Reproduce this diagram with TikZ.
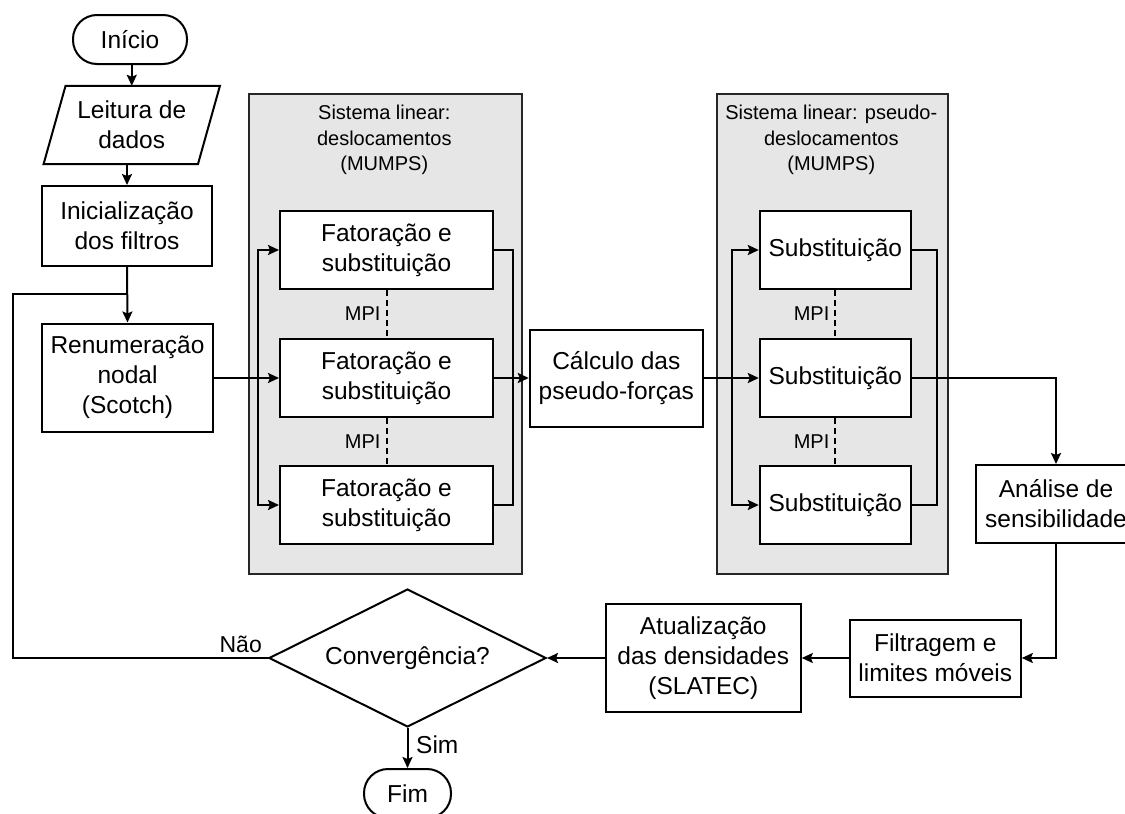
\documentclass[tikz,border=0pt]{standalone}
\usepackage{fontspec}
\setmainfont{Liberation Sans}
\usetikzlibrary{arrows.meta,shapes.geometric,calc}
\definecolor{panelfill}{RGB}{230,230,230}
\begin{document}
\begin{tikzpicture}[x=1pt,y=-1pt,
  every node/.style={font=\fontsize{24.5}{30}\selectfont},
  box/.style={draw, line width=2pt, fill=white, align=center, inner sep=0pt, rectangle},
  term/.style={box, rounded corners=24pt},
  panel/.style={draw=black!85, line width=2pt, fill=panelfill, inner sep=0pt, anchor=north west},
  ln/.style={line width=2pt, line cap=rect},
  arr/.style={line width=2pt, -{Stealth[length=11pt,width=10pt,inset=2pt]}},
  mpiline/.style={line width=2pt, dash pattern=on 6pt off 4pt},
  small/.style={font=\fontsize{20}{25.5}\selectfont},
  mpilabel/.style={small, anchor=east, inner sep=0pt, xshift=-5pt},
]
\useasboundingbox (0,0) rectangle (1125,814);
\clip (0,0) rectangle (1125,814);

% panels
\node[panel, minimum width=272.7pt, minimum height=480pt] (p1) at (248,93) {};
\node[panel, minimum width=230.7pt, minimum height=480pt] (p2) at (716,93) {};
\node[small, align=center] (t1) at (384.3,140) {Sistema linear:\\deslocamentos\\(MUMPS)};
\node[small, align=center] (t2) at (831.3,140) {Sistema linear: pseudo-\\deslocamentos\\(MUMPS)};

% left column
\node[term, minimum width=114pt, minimum height=49pt] (ini) at (130,39.5) {Início};
\node[align=center, inner sep=0pt, minimum width=154pt, minimum height=78pt] (para) at (131.75,125) {Leitura de\\dados};
\draw[line width=2pt, line join=miter]
  ([xshift=11pt]para.north west) -- ([xshift=11pt]para.north east)
  -- ([xshift=-11pt]para.south east) -- ([xshift=-11pt]para.south west) -- cycle;
\node[box, minimum width=170pt, minimum height=80pt] (inic) at (127,226) {Inicialização\\dos filtros};
\node[box, minimum width=171pt, minimum height=108pt] (renum) at (127.5,377.5) {Renumeração\\nodal\\(Scotch)};

% left panel boxes
\node[box, minimum width=213pt, minimum height=78pt] (fat1) at (386.5,250) {Fatoração e\\substituição};
\node[box, minimum width=213pt, minimum height=78pt] (fat2) at (386.5,378) {Fatoração e\\substituição};
\node[box, minimum width=213pt, minimum height=78pt] (fat3) at (386.5,505) {Fatoração e\\substituição};

\node[box, minimum width=173pt, minimum height=97pt] (calc) at (616.3,378) {Cálculo das\\pseudo-forças};

% right panel boxes
\node[box, minimum width=151pt, minimum height=78pt] (sub1) at (835.3,250) {Substituição};
\node[box, minimum width=151pt, minimum height=78pt] (sub2) at (835.3,378) {Substituição};
\node[box, minimum width=151pt, minimum height=78pt] (sub3) at (835.3,505) {Substituição};

\node[box, minimum width=160pt, minimum height=78pt] (ana) at (1056,504) {Análise de\\sensibilidade};
\node[box, minimum width=171pt, minimum height=77pt] (filt) at (935.3,658) {Filtragem e\\limites móveis};
\node[box, minimum width=195pt, minimum height=108pt] (atu) at (703.3,658) {Atualização\\das densidades\\(SLATEC)};
\node[draw, diamond, aspect=2, line width=2pt, fill=white, inner sep=0pt, minimum width=277pt, minimum height=138pt] (conv) at (407.5,658) {Convergência?};
\node[term, minimum width=87pt, minimum height=49pt] (fim) at (407.5,793.5) {Fim};

% coordinates
\coordinate (loopc) at (13,294);
\coordinate (loopj) at (127,294);
\coordinate (lb1) at (258,250);
\coordinate (lb3) at (258,505);
\coordinate (rb1) at (512.7,250);
\coordinate (rb3) at (512.7,505);
\coordinate (slb1) at (732,250);
\coordinate (slb3) at (732,505);
\coordinate (srb1) at (936.7,250);
\coordinate (srb3) at (936.7,505);

% connectors
\draw[arr] (ini.south -| para.north) -- (para.north);
\draw[arr] (inic.north |- para.south) -- (inic.north);
\draw[arr] (inic.south) -- (renum.north);
\draw[ln] (conv.west) -| (loopc) -- (loopj);
\node[anchor=south east, inner sep=0pt, font=\fontsize{23}{28}\selectfont] (nao) at ($(conv.west)+(-6,-5)$) {Não};
\draw[arr] (renum.east |- fat2.west) -- (fat2.west);

\draw[ln] (lb1) -- (lb3);
\draw[arr] (lb1) -- (fat1.west);
\draw[arr] (lb3) -- (fat3.west);
\draw[ln] (fat1.east) -- (rb1) -- (rb3) -- (fat3.east);
\draw[mpiline] (fat1.south) -- node[mpilabel] (m1) {MPI} (fat2.north);
\draw[mpiline] (fat2.south) -- node[mpilabel] (m2) {MPI} (fat3.north);

\draw[arr] (fat2.east) -- (fat2.east -| calc.west);
\draw[arr] (calc.east) -- (calc.east -| sub2.west);

\draw[ln] (slb1) -- (slb3);
\draw[arr] (slb1) -- (sub1.west);
\draw[arr] (slb3) -- (sub3.west);
\draw[ln] (sub1.east) -- (srb1) -- (srb3) -- (sub3.east);
\draw[mpiline] (sub1.south) -- node[mpilabel] (m3) {MPI} (sub2.north);
\draw[mpiline] (sub2.south) -- node[mpilabel] (m4) {MPI} (sub3.north);

\draw[arr] (sub2.east) -| (ana.north);
\draw[arr] (ana.south) |- (filt.east);
\draw[arr] (filt.west) -- (filt.west -| atu.east);
\draw[arr] (atu.west) -- (conv.east);
\draw[arr] (conv.south) -- (fim.north);
\node[anchor=west, inner sep=0pt] (sim) at (416,745) {Sim};
\end{tikzpicture}
\end{document}
